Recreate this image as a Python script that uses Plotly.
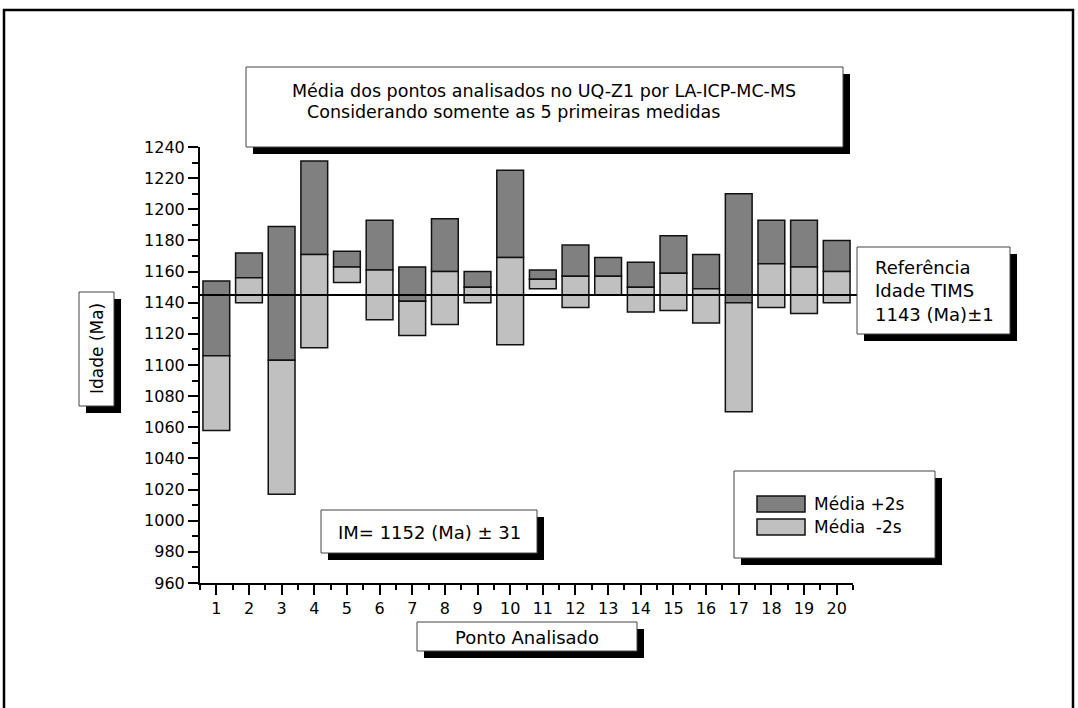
import plotly.graph_objects as go

points = list(range(1, 21))
upper = [1154, 1172, 1189, 1231, 1173, 1193, 1163, 1194, 1160, 1225,
         1161, 1177, 1169, 1166, 1183, 1171, 1210, 1193, 1193, 1180]
mean = [1106, 1156, 1103, 1171, 1163, 1161, 1141, 1160, 1150, 1169,
        1155, 1157, 1157, 1150, 1159, 1149, 1140, 1165, 1163, 1160]
lower = [1058, 1140, 1017, 1111, 1153, 1129, 1119, 1126, 1140, 1113,
         1149, 1137, 1145, 1134, 1135, 1127, 1070, 1137, 1133, 1140]
ref_age = 1145

DARK = '#808080'
LIGHT = '#c0c0c0'
FONT = 'DejaVu Sans'

W, H = 1078, 708
ML, MR, MT, MB = 200, 225, 147, 125
PW, PH = W - ML - MR, H - MT - MB


def px(x):
    return (x - ML) / PW


def py(y):
    return (H - MB - y) / PH


fig = go.Figure()
fig.add_trace(go.Bar(x=points, y=[u - m for u, m in zip(upper, mean)], base=mean,
                     width=0.82, marker=dict(color=DARK, line=dict(color='#111', width=1.5)),
                     name='Média +2s'))
fig.add_trace(go.Bar(x=points, y=[m - l for m, l in zip(mean, lower)], base=lower,
                     width=0.82, marker=dict(color=LIGHT, line=dict(color='#111', width=1.5)),
                     name='Média  -2s'))

shapes = []
# outer frame
shapes.append(dict(type='rect', xref='paper', yref='paper', x0=px(4), x1=px(1073),
                   y0=py(10), y1=py(730), line=dict(color='black', width=2.5)))
# reference line
shapes.append(dict(type='line', xref='paper', yref='y', x0=0, x1=px(857),
                   y0=ref_age, y1=ref_age, line=dict(color='black', width=2)))


def box(x0, y0, x1, y1, off=7):
    shapes.append(dict(type='rect', xref='paper', yref='paper',
                       x0=px(x0 + off), x1=px(x1 + off), y0=py(y0 + off), y1=py(y1 + off),
                       line=dict(width=0), fillcolor='black'))
    shapes.append(dict(type='rect', xref='paper', yref='paper',
                       x0=px(x0), x1=px(x1), y0=py(y0), y1=py(y1),
                       line=dict(color='#444', width=1), fillcolor='white'))


box(246, 67, 843, 147)      # title
box(79, 292, 114, 406)      # y title
box(857, 247, 1010, 334)    # reference
box(321, 510, 537, 553)     # IM
box(417, 622, 637, 651)     # x title
box(734, 471, 935, 558)     # legend

# legend swatches
shapes.append(dict(type='rect', xref='paper', yref='paper', x0=px(757), x1=px(805),
                   y0=py(496), y1=py(512), fillcolor=DARK, line=dict(color='#111', width=1.5)))
shapes.append(dict(type='rect', xref='paper', yref='paper', x0=px(757), x1=px(805),
                   y0=py(519), y1=py(535), fillcolor=LIGHT, line=dict(color='#111', width=1.5)))


def txt(x, y, text, size, xanchor='center', angle=0, align='center'):
    return dict(xref='paper', yref='paper', x=px(x), y=py(y), text=text, showarrow=False,
                xanchor=xanchor, yanchor='middle', textangle=angle, align=align,
                font=dict(family=FONT, size=size, color='black'))


annotations = [
    txt(544, 91, 'Média dos pontos analisados no UQ-Z1 por LA-ICP-MC-MS', 17.5),
    txt(513, 112, 'Considerando somente as 5 primeiras medidas', 17.5),
    txt(97, 349, 'Idade (Ma)', 17, angle=-90),
    txt(873, 291, 'Referência<br>Idade TIMS<br>1143 (Ma)±1', 18, xanchor='left', align='left'),
    txt(429, 532, 'IM= 1152 (Ma) ± 31', 18),
    txt(527, 637, 'Ponto Analisado', 18),
    txt(812, 504, 'Média +2s', 17, xanchor='left'),
    txt(812, 527, 'Média  -2s', 17, xanchor='left'),
]

fig.update_layout(
    width=W, height=H,
    margin=dict(l=ML, r=MR, t=MT, b=MB),
    paper_bgcolor='white', plot_bgcolor='white',
    barmode='overlay', showlegend=False, hovermode=False,
    shapes=shapes, annotations=annotations,
    font=dict(family=FONT, size=16, color='black'),
)
fig.update_xaxes(range=[0.5, 20.5], tickvals=points, ticks='outside', ticklen=10,
                 tickwidth=1.5, tickcolor='black', showline=True, linewidth=2,
                 linecolor='black', showgrid=False, zeroline=False,
                 tickfont=dict(family=FONT, size=16),
                 minor=dict(dtick=0.5, tick0=0.5, ticks='outside', ticklen=5,
                            tickwidth=1.5, tickcolor='black'))
fig.update_yaxes(range=[960, 1240], dtick=20, tick0=960, ticks='outside', ticklen=10,
                 tickwidth=1.5, tickcolor='black', showline=True, linewidth=2,
                 linecolor='black', showgrid=False, zeroline=False,
                 tickfont=dict(family=FONT, size=16),
                 minor=dict(dtick=10, tick0=960, ticks='outside', ticklen=6,
                            tickwidth=1.5, tickcolor='black'))

# page body has a default margin; remove it so the figure sits at the window's corner
fig.write_html("out.html", config={'displayModeBar': False},
               post_script="document.body.style.margin='0';")
